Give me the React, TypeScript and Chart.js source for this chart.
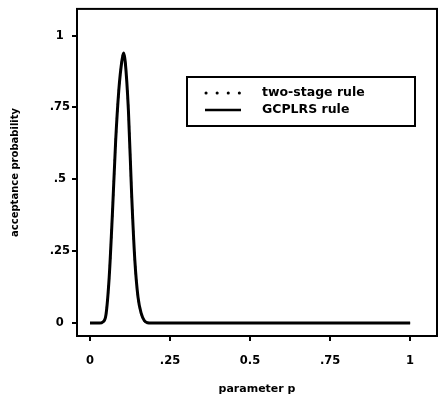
import React, { useEffect, useRef } from "react";
import { Chart, registerables } from "chart.js";

Chart.register(...registerables);

const pValues = [0, 0.02, 0.03, 0.04, 0.05, 0.06, 0.07, 0.08, 0.09, 0.1, 0.105, 0.11, 0.12, 0.13, 0.14, 0.15, 0.16, 0.17, 0.18, 0.19, 0.2, 0.3, 0.4, 0.5, 0.6, 0.7, 0.8, 0.9, 1.0];
const twoStage = [0, 0, 0, 0.004, 0.03, 0.16, 0.38, 0.63, 0.81, 0.915, 0.94, 0.91, 0.74, 0.45, 0.22, 0.09, 0.034, 0.008, 0.001, 0, 0, 0, 0, 0, 0, 0, 0, 0, 0];
const gcplrs = [0, 0, 0, 0.004, 0.03, 0.16, 0.38, 0.63, 0.81, 0.915, 0.94, 0.91, 0.74, 0.45, 0.22, 0.09, 0.034, 0.008, 0.001, 0, 0, 0, 0, 0, 0, 0, 0, 0, 0];

const xTickValues = [0, 0.25, 0.5, 0.75, 1];
const xTickLabels = ["0", ".25", "0.5", ".75", "1"];
const yTickValues = [0, 0.25, 0.5, 0.75, 1];
const yTickLabels = ["0", ".25", ".5", ".75", "1"];

const seriesLabels = ["two-stage rule", "GCPLRS rule"];
const FONT = "'DejaVu Sans', sans-serif";

const framePlugin = {
  id: "frameAndLegend",
  afterDraw(chart: any) {
    const { ctx, chartArea } = chart;
    ctx.save();
    ctx.strokeStyle = "#000";
    ctx.lineWidth = 2;
    ctx.strokeRect(chartArea.left, chartArea.top, chartArea.right - chartArea.left, chartArea.bottom - chartArea.top);

    // legend box
    const bx = 187, by = 77, bw = 228, bh = 49;
    ctx.lineWidth = 2;
    ctx.strokeRect(bx, by, bw, bh);
    ctx.font = `bold 12.5px ${FONT}`;
    ctx.fillStyle = "#000";
    ctx.textBaseline = "middle";
    ctx.textAlign = "left";
    const rows = [93, 110];
    ctx.lineCap = "round";
    ctx.lineWidth = 3;
    ctx.setLineDash([0.1, 11]);
    ctx.beginPath();
    ctx.moveTo(206, rows[0]);
    ctx.lineTo(241, rows[0]);
    ctx.stroke();
    ctx.setLineDash([]);
    ctx.lineCap = "butt";
    ctx.lineWidth = 2.5;
    ctx.beginPath();
    ctx.moveTo(205, rows[1]);
    ctx.lineTo(241, rows[1]);
    ctx.stroke();
    ctx.fillText(seriesLabels[0], 262, rows[0]);
    ctx.fillText(seriesLabels[1], 262, rows[1]);
    ctx.restore();
  },
};

export default function App() {
  const canvasRef = useRef<HTMLCanvasElement | null>(null);

  useEffect(() => {
    if (!canvasRef.current) return;
    const chart = new Chart(canvasRef.current, {
      type: "line",
      data: {
        datasets: [
          {
            label: seriesLabels[1],
            data: pValues.map((p, i) => ({ x: p, y: gcplrs[i] })),
            borderColor: "#000",
            borderWidth: 3,
            pointRadius: 0,
            cubicInterpolationMode: "monotone",
            fill: false,
          },
          {
            label: seriesLabels[0],
            data: pValues.map((p, i) => ({ x: p, y: twoStage[i] })),
            borderColor: "#000",
            borderWidth: 2,
            borderDash: [2, 5],
            pointRadius: 0,
            cubicInterpolationMode: "monotone",
            fill: false,
          },
        ],
      },
      options: {
        animation: false,
        responsive: true,
        maintainAspectRatio: false,
        layout: { padding: { top: 7, right: 2, left: 0, bottom: 0 } },
        plugins: { legend: { display: false }, tooltip: { enabled: false } },
        scales: {
          x: {
            type: "linear",
            min: -0.0406,
            max: 1.084,
            afterBuildTicks: (scale: any) => {
              scale.ticks = xTickValues.map((v) => ({ value: v }));
            },
            afterFit: (scale: any) => {
              scale.height = 70;
            },
            border: { display: false },
            grid: { drawOnChartArea: false, drawTicks: true, tickLength: 5, color: "#000", lineWidth: 2 },
            ticks: {
              autoSkip: false,
              maxRotation: 0,
              padding: 13,
              color: "#000",
              font: { family: FONT, size: 11.5, weight: "bold" },
              callback: (_v: any, i: number) => xTickLabels[i],
            },
            title: {
              display: true,
              text: "parameter p",
              color: "#000",
              font: { family: FONT, size: 11, weight: "bold" },
              padding: { top: 0, bottom: 10 },
            },
          },
          y: {
            type: "linear",
            min: -0.045,
            max: 1.093,
            afterBuildTicks: (scale: any) => {
              scale.ticks = yTickValues.map((v) => ({ value: v }));
            },
            afterFit: (scale: any) => {
              scale.width = 77;
            },
            border: { display: false },
            grid: { drawOnChartArea: false, drawTicks: true, tickLength: 5, color: "#000", lineWidth: 2 },
            ticks: {
              autoSkip: false,
              padding: 2,
              crossAlign: "center",
              color: "#000",
              font: { family: FONT, size: 11.5, weight: "bold" },
              callback: (_v: any, i: number) => yTickLabels[i],
            },
            title: {
              display: true,
              text: "acceptance probability",
              color: "#000",
              font: { family: FONT, size: 10, weight: "bold" },
              padding: { top: 9, bottom: 0 },
            },
          },
        },
      },
      plugins: [framePlugin],
    } as any);
    return () => chart.destroy();
  }, []);

  return (
    <div style={{ position: "fixed", left: 0, top: 0, width: 439, height: 406, background: "#fff" }}>
      <canvas ref={canvasRef} />
    </div>
  );
}
